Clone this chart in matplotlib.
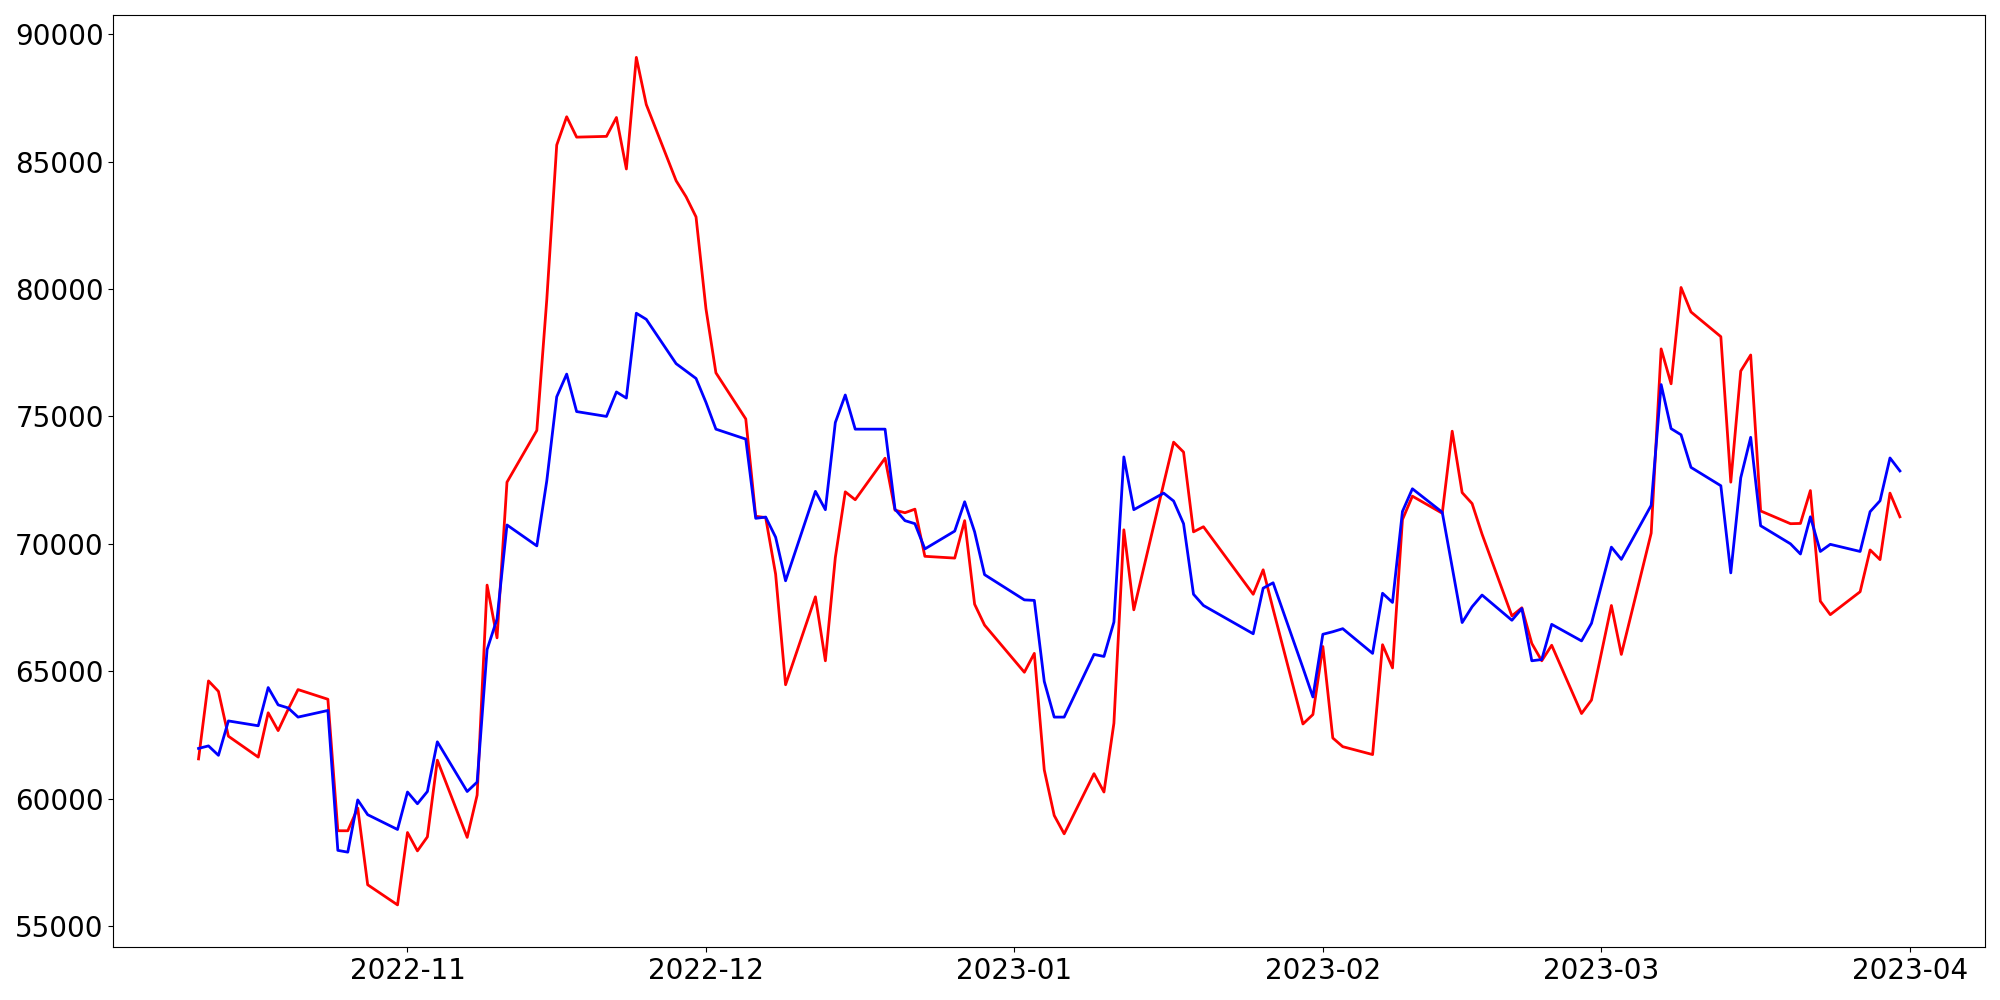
import pandas as pd
import matplotlib
matplotlib.use("Agg")
import matplotlib.pyplot as plt
import matplotlib.dates as mdates

# trading days (KRX calendar, holidays removed)
holidays = ["2022-12-30", "2023-01-23", "2023-01-24", "2023-03-01"]
dates = pd.bdate_range("2022-10-11", "2023-03-31")
dates = dates[~dates.isin(pd.to_datetime(holidays))]

red_values = [
    # Oct
    61560, 64620, 64210, 62450, 61630, 63370, 62670, 63500, 64280, 63900,
    58740, 58740, 59630, 56620, 55830,
    # Nov
    58670, 57950, 58500, 61510, 58480, 60140, 68380, 66310, 72420, 74450,
    79580, 85650, 86760, 85960, 85990, 86730, 84710, 89090, 87240, 84250,
    83620, 82830,
    # Dec
    79220, 76710, 74900, 71080, 71030, 68810, 64470, 67920, 65410, 69460,
    72040, 71730, 73360, 71320, 71220, 71360, 69510, 69440, 70910, 67630,
    66810,
    # Jan
    64960, 65700, 61130, 59340, 58620, 60980, 60260, 62960, 70550, 67410,
    72360, 73990, 73600, 70470, 70670, 68020, 68980, 67440, 62930, 63300,
    # Feb
    65970, 62380, 62040, 61730, 66040, 65130, 70950, 71870, 71200, 74420,
    72010, 71580, 70380, 67170, 67490, 66090, 65410, 66020, 63340, 63870,
    # Mar
    67580, 65660, 70420, 77650, 76280, 80060, 79100, 78130, 72420, 76780,
    77410, 71290, 70790, 70800, 72090, 67750, 67220, 68120, 69760, 69380,
    71990, 71060,
]

blue_values = [
    # Oct
    61970, 62070, 61700, 63050, 62860, 64360, 63680, 63560, 63200, 63460,
    57970, 57900, 59950, 59370, 58790,
    # Nov
    60260, 59800, 60280, 62230, 60280, 60650, 65850, 67050, 70740, 69920,
    72470, 75770, 76660, 75190, 75000, 75960, 75720, 79050, 78810, 77070,
    76780, 76490,
    # Dec
    75550, 74500, 74110, 71000, 71050, 70260, 68550, 72060, 71340, 74760,
    75840, 74500, 74500, 71360, 70910, 70790, 69800, 70500, 71650, 70470,
    68790,
    # Jan
    67800, 67780, 64600, 63200, 63200, 65660, 65580, 66930, 73410, 71340,
    71990, 71680, 70790, 68020, 67580, 66470, 68260, 68470, 65130, 63990,
    # Feb
    66450, 66550, 66670, 65700, 68060, 67700, 71270, 72160, 71240, 69080,
    66910, 67530, 67990, 67000, 67460, 65410, 65460, 66840, 66190, 66880,
    # Mar
    69870, 69390, 71510, 76250, 74520, 74280, 73000, 72280, 68860, 72590,
    74180, 70710, 70000, 69600, 71060, 69700, 69980, 69700, 71260, 71690,
    73370, 72860,
]

fig, ax = plt.subplots(figsize=(20, 10))
ax.plot(dates, red_values, color="red", lw=2)
ax.plot(dates, blue_values, color="blue", lw=2)

ax.xaxis.set_major_locator(mdates.MonthLocator())
ax.xaxis.set_major_formatter(mdates.DateFormatter("%Y-%m"))
ax.tick_params(labelsize=20)

plt.tight_layout()
plt.savefig("out.png", dpi=100)
